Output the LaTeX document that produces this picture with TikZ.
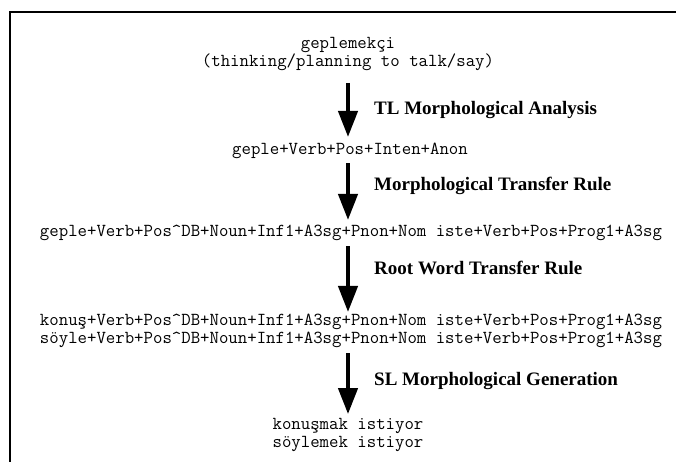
\documentclass[tikz,border=0pt]{standalone}
\usepackage{fontspec}
\setmainfont{Liberation Serif}
\usetikzlibrary{arrows.meta}
\begin{document}
\begin{tikzpicture}[x=1pt,y=-1pt,
  mono/.style={font=\fontsize{18.3}{18}\selectfont\ttfamily,align=center,inner sep=0pt},
  lbl/.style={font=\fontsize{19}{22}\selectfont\bfseries,anchor=west,inner sep=0pt},
  bigarrow/.style={line width=4.2pt,-{Triangle[width=19pt,length=26pt]}},
  frame/.style={line width=1.6pt}]
\useasboundingbox (0,0) rectangle (676,462);
\draw[frame] (10,462) -- (10,12) -- (676,12);
\coordinate (ax) at (348,0);
\node[mono] (n0) at (348,54) {geplemekçi\\(thinking/planning to talk/say)};
\node[mono] (n1) at (350,151) {geple+Verb+Pos+Inten+Anon};
\node[mono] (n2) at (351,233) {geple+Verb+Pos\textasciicircum DB+Noun+Inf1+A3sg+Pnon+Nom iste+Verb+Pos+Prog1+A3sg};
\node[mono] (n3) at (351,331) {konuş+Verb+Pos\textasciicircum DB+Noun+Inf1+A3sg+Pnon+Nom iste+Verb+Pos+Prog1+A3sg\\söyle+Verb+Pos\textasciicircum DB+Noun+Inf1+A3sg+Pnon+Nom iste+Verb+Pos+Prog1+A3sg};
\node[mono] (n4) at (348,435) {konuşmak istiyor\\söylemek istiyor};
\node[lbl] (l1) at (374,110) {TL Morphological Analysis};
\node[lbl] (l2) at (374,186) {Morphological Transfer Rule};
\node[lbl] (l3) at (374,268) {Root Word Transfer Rule};
\node[lbl] (l4) at (374,381) {SL Morphological Generation};
\draw[bigarrow,shorten <=12pt,shorten >=6pt] (n0.south -| ax) -- (n1.north -| ax);
\draw[bigarrow,shorten <=4pt,shorten >=5pt] (n1.south -| ax) -- (n2.north -| ax);
\draw[bigarrow,shorten <=5pt,shorten >=2pt] (n2.south -| ax) -- (n3.north -| ax);
\draw[bigarrow,shorten <=5pt,shorten >=4pt] (n3.south -| ax) -- (n4.north -| ax);
\end{tikzpicture}
\end{document}
